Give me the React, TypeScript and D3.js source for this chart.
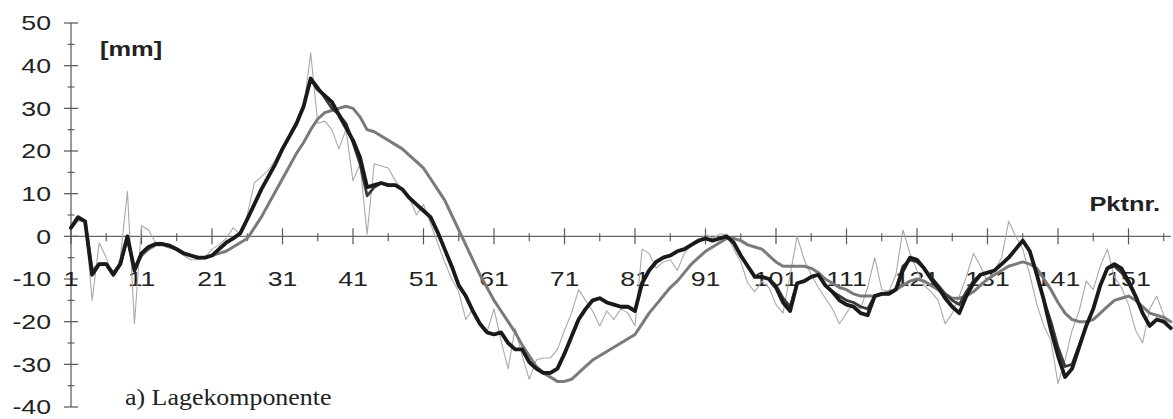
import React from "react";
import * as d3 from "d3";

const W = 1173;
const H = 419;

// Pktnr. 1..157
const thinRaw = [2,4.5,3.5,-15,-1.5,-5,-9.5,-5,10.5,-20.5,2.5,1.5,-1.5,-2,-2.5,-3.5,-4.5,-5.5,-5.5,-5,-3,-2,-0.5,2,0.5,5,12.5,14,15.5,18,21,24,27,30,43,26.5,27,25,20.5,25,13,17,0.5,17,16.5,16,13,11,9,5,7.5,3,-1.5,-6,-10,-13,-19.5,-17,-20,-22.5,-17,-24.5,-31,-21.5,-28,-33.5,-29,-28.5,-28.5,-26.5,-22,-18,-12.5,-15,-17.5,-21,-17.5,-19.5,-17,-18,-21,-3,-4,-7.5,-6,-5.5,-8,-4,-2,-1.5,0.5,-0.5,0.5,0.5,-3,-6,-11,-13,-10.5,-12,-16,-18,-9,0,-5.5,-9,-12,-14.5,-17,-20.5,-18,-15.5,-17,-12,-5,-12.5,-13,-9,1.5,-4,-8,-11.5,-13,-15,-20.5,-18,-14,-9.5,-4,-7,-10.5,-8,-5,3.5,0,-3,-9,-16,-21,-24.5,-34.5,-29,-22,-17.5,-10.5,-12.5,-7,-3,-9.5,-12,-16,-22,-25,-17,-14,-18.5,-22];

const grayLag = [2,4,3.5,-8,-6.5,-6.5,-8.5,-6.5,-0.5,-7.5,-4.5,-3,-2,-2,-2.5,-3,-4,-4.5,-5,-5,-4.5,-4,-3.5,-2.5,-1.5,-0.5,2,4.5,7.5,10.5,13.5,16.5,19.5,22,25,27.5,29,29.5,30,30.5,30,28,25,24.5,23.5,22.5,21.5,20.5,19,17.5,16,13.5,11,8.5,5,1.5,-2,-5.5,-9,-12,-15,-17.5,-20,-22.5,-25.5,-28,-30.5,-32,-33,-34,-34,-33.5,-32,-30.5,-29,-28,-27,-26,-25,-24,-23,-20.5,-18,-16,-14,-12,-10.5,-8.5,-6.5,-5,-3.5,-2.5,-1.5,-0.5,-0.5,-1,-2,-2.5,-3,-4.5,-6,-7,-7,-7,-7,-7.5,-8.5,-10,-11,-12,-12.5,-13.5,-14,-14,-14,-13.5,-13,-12.5,-11.5,-10.5,-10,-10.5,-11.5,-12.5,-13.5,-14.5,-14.5,-14,-13,-11.5,-10,-9,-8,-7,-6.5,-6,-6.5,-7.5,-10,-12.5,-15.5,-18,-19.5,-20,-20,-19.5,-18,-16.5,-15,-14.5,-14,-15,-16.5,-18,-18.5,-19,-20];

const darkMid = [2,4.5,3.5,-9,-6.5,-6.5,-9,-6.5,0,-8,-4,-2.5,-1.8,-1.8,-2.2,-3,-4,-4.5,-5,-5,-4.5,-3,-1.5,-0.5,0.7,4,7.5,11,14,17,20.5,23.5,26.5,30.5,37,35,32.5,30,28.5,26.5,22,17,9.5,11.5,12.5,12,12,11,9,7.5,6,4.5,1,-3,-7,-11.5,-14,-17.5,-20.5,-22.5,-23,-22.5,-25,-26.5,-26.5,-29.5,-31,-32,-32,-31,-27.5,-23.5,-19.5,-17,-15,-14.5,-15.5,-16,-16.5,-16.5,-17.5,-11,-8,-6,-5,-4.5,-3.5,-3,-2,-1,-0.5,-1,-0.5,0,-1.5,-4.5,-7,-9.5,-9.5,-10,-11.5,-14.5,-16.5,-11,-10.5,-9.5,-9,-11.5,-13,-14,-15,-15.5,-16.5,-17,-14,-13.5,-13.5,-12.5,-7,-5.5,-6,-7.5,-9.5,-11.5,-13.5,-15,-16,-13,-10.5,-9,-8.5,-8,-6.5,-5,-3,-1,-3.5,-9,-15,-20,-26,-30.5,-30,-25.5,-21,-17,-11.5,-7.5,-7,-8.5,-11,-14,-18,-21,-19.5,-20,-21.5];

const blackThick = [2,4.5,3.5,-9,-6.5,-6.5,-9,-6.5,0,-8,-4,-2.5,-1.8,-1.8,-2.2,-3,-4,-4.5,-5,-5,-4.5,-3,-1.5,-0.5,0.7,4,7.5,11,14,17,20.5,23.5,26.5,30.5,37,34.5,33,31.5,28.5,25.5,22.5,18.5,11.5,12,12.5,12,12,11,9,7.5,6,4.5,1,-3,-7,-11.5,-14,-17.5,-20.5,-22.5,-23,-22.5,-25,-26.5,-26.5,-29.5,-31,-32,-32,-31,-27.5,-23.5,-19.5,-17,-15,-14.5,-15.5,-16,-16.5,-16.5,-17.5,-11,-8,-6,-5,-4.5,-3.5,-3,-2,-1,-0.5,-1,-0.5,0,-1.5,-4.5,-7,-9.5,-9.5,-10,-12,-15.5,-17.5,-11,-10.5,-9.5,-9,-11.5,-13,-15,-16,-16.5,-18,-18.5,-14,-13.5,-13.5,-12.5,-8,-5,-5.5,-7.5,-10,-12,-14.5,-16.5,-18,-14,-11,-9,-8.5,-8,-6.5,-5,-3,-1,-3.5,-9,-15,-22,-28,-33,-31,-26,-21,-17,-11.5,-7.5,-6.5,-7.5,-10.5,-14,-18,-21,-19.5,-20,-21.5];

const yMajor = [-40, -30, -20, -10, 0, 10, 20, 30, 40, 50];
const yMinor = [-35, -25, -15, -5, 5, 15, 25, 35, 45];
const xMajor = [1, 11, 21, 31, 41, 51, 61, 71, 81, 91, 101, 111, 121, 131, 141, 151];
const xMinor = [6, 16, 26, 36, 46, 56, 66, 76, 86, 96, 106, 116, 126, 136, 146, 156];

const x = d3.scaleLinear().domain([1, 157]).range([71, 1170.8]);
const y = d3.scaleLinear().domain([-40, 50]).range([407, 23]);

const line = d3
  .line<number>()
  .x((_, i) => x(i + 1))
  .y((d) => y(d));

const series = [
  { data: thinRaw, color: "#a9a9a9", width: 1.1 },
  { data: grayLag, color: "#7a7a7a", width: 3 },
  { data: darkMid, color: "#3a3a3a", width: 2.8 },
  { data: blackThick, color: "#1a1a1a", width: 3.8 },
];

const SX = 1.27;
const sans = "Arial, 'Liberation Sans', Helvetica, sans-serif";

function SText(props: {
  x: number;
  y: number;
  anchor?: "start" | "middle" | "end";
  size: number;
  bold?: boolean;
  family?: string;
  sx?: number;
  baseline?: string;
  children: React.ReactNode;
}) {
  return (
    <g transform={`translate(${props.x},${props.y}) scale(${props.sx ?? SX},1)`}>
      <text
        x={0}
        y={0}
        textAnchor={props.anchor || "start"}
        dominantBaseline={props.baseline || "alphabetic"}
        fontFamily={props.family || sans}
        fontWeight={props.bold ? "bold" : "normal"}
        fontSize={props.size}
        fill="#222"
      >
        {props.children}
      </text>
    </g>
  );
}

export default function App() {
  const y0 = y(0);
  return (
    <div style={{ position: "absolute", left: 0, top: 0 }}>
      <svg width={W} height={H} style={{ display: "block", background: "#fff" }}>
        {/* y axis */}
        <line x1={x(1)} x2={x(1)} y1={y(50)} y2={y(-40)} stroke="#555" strokeWidth={1.2} />
        {yMajor.map((v) => (
          <g key={"ym" + v}>
            <line x1={x(1) - 7} x2={x(1) + 7} y1={y(v)} y2={y(v)} stroke="#555" strokeWidth={1.2} />
            <SText x={51} y={y(v)} anchor="end" size={21} baseline="central">
              {v}
            </SText>
          </g>
        ))}
        {yMinor.map((v) => (
          <line key={"yn" + v} x1={x(1) - 3.5} x2={x(1) + 3.5} y1={y(v)} y2={y(v)} stroke="#555" strokeWidth={1.1} />
        ))}
        {/* x axis */}
        <line x1={x(1)} x2={x(157)} y1={y0} y2={y0} stroke="#666" strokeWidth={1.3} />
        {xMajor.map((v) => (
          <g key={"xm" + v}>
            <line x1={x(v)} x2={x(v)} y1={y0 - 8} y2={y0 + 8} stroke="#555" strokeWidth={1.2} />
            <SText x={x(v)} y={y(-10)} anchor="middle" size={21} baseline="central">
              {v}
            </SText>
          </g>
        ))}
        {xMinor.map((v) => (
          <line key={"xn" + v} x1={x(v)} x2={x(v)} y1={y0 - 3} y2={y0 + 5} stroke="#555" strokeWidth={1.1} />
        ))}
        {/* series */}
        {series.map((s, i) => (
          <path
            key={i}
            d={line(s.data) || ""}
            fill="none"
            stroke={s.color}
            strokeWidth={s.width}
            strokeLinejoin="round"
            strokeLinecap="round"
          />
        ))}
        {/* labels */}
        <SText x={100} y={56} size={20} bold>
          [mm]
        </SText>
        <SText x={1160} y={211} anchor="end" size={20} bold>
          Pktnr.
        </SText>
        <SText x={125} y={405} size={24} sx={1.08} family="'Liberation Serif', 'Times New Roman', serif">
          a) Lagekomponente
        </SText>
      </svg>
    </div>
  );
}
